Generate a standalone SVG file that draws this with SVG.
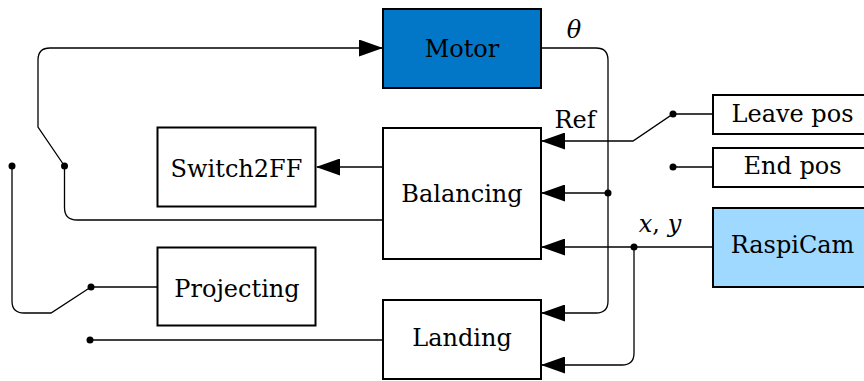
<svg xmlns="http://www.w3.org/2000/svg" width="864" height="381" viewBox="0 0 864 381">
<style>
.box{stroke:#000;stroke-width:2;fill:#fff}
.lbl{font-family:'DejaVu Serif',serif;font-size:24px;fill:#000;text-anchor:middle}
.it{font-style:italic}
.wire{fill:none;stroke:#000;stroke-width:1.3}
.dot{fill:#000}
</style>
<defs>
<marker id="arr" viewBox="0 0 24 17" refX="23" refY="8.5" markerWidth="24" markerHeight="17" markerUnits="userSpaceOnUse" orient="auto">
<path d="M0,0 L24,8.5 L0,17 z" fill="#000"/>
</marker>
</defs>
<rect width="864" height="381" fill="#fff"/>
<g id="connectors">
<path class="wire" d="M64.5,166 L38,127 L38,60 Q38,48 50,48 L382,48" marker-end="url(#arr)"/>
<path class="wire" d="M382,220 L77,220 Q64.5,220 64.5,207.5 L64.5,166"/>
<path class="wire" d="M382,167 L317,167" marker-end="url(#arr)"/>
<path class="wire" d="M12,166 L12,301 Q12,313 24,313 L51,313 L91,287"/>
<path class="wire" d="M91,287 L157,287"/>
<path class="wire" d="M90,340 L382,340"/>
<path class="wire" d="M541,48 L596,48 Q608,48 608,60 L608,301 Q608,313 596,313 L542,313" marker-end="url(#arr)"/>
<path class="wire" d="M608,193 L542,193" marker-end="url(#arr)"/>
<path class="wire" d="M712,114 L673,114 L633,141 L542,141" marker-end="url(#arr)"/>
<path class="wire" d="M673,167 L712,167"/>
<path class="wire" d="M712,247 L542,247" marker-end="url(#arr)"/>
<path class="wire" d="M634,247 L634,353 Q634,365 622,365 L542,365" marker-end="url(#arr)"/>
<circle class="dot" cx="64.5" cy="166" r="3.5"/>
<circle class="dot" cx="12" cy="166" r="3.5"/>
<circle class="dot" cx="91" cy="287" r="3.5"/>
<circle class="dot" cx="90" cy="340" r="3.5"/>
<circle class="dot" cx="608" cy="193" r="3.5"/>
<circle class="dot" cx="673" cy="114" r="3.5"/>
<circle class="dot" cx="673" cy="167" r="3.5"/>
<circle class="dot" cx="634" cy="247" r="3.5"/>
<text class="lbl it" x="574" y="38">θ</text>
<text class="lbl" x="575" y="128">Ref</text>
<text class="lbl" x="660" y="232"><tspan class="it">x</tspan>, <tspan class="it">y</tspan></text>
</g>
<g id="motor">
<rect class="box" x="383" y="9" width="158" height="79" style="fill:#0277C8"/>
<text class="lbl" x="462" y="57">Motor</text>
</g>
<g id="switch2ff">
<rect class="box" x="157.5" y="127.5" width="158" height="79"/>
<text class="lbl" x="236.5" y="176.5">Switch2FF</text>
</g>
<g id="balancing">
<rect class="box" x="383" y="128" width="158" height="131"/>
<text class="lbl" x="462" y="201.5">Balancing</text>
</g>
<g id="projecting">
<rect class="box" x="157.5" y="247.5" width="158" height="78"/>
<text class="lbl" x="237" y="296.5">Projecting</text>
</g>
<g id="landing">
<rect class="box" x="383" y="300" width="158" height="79"/>
<text class="lbl" x="462" y="346">Landing</text>
</g>
<g id="leavepos">
<rect class="box" x="713" y="95" width="158" height="39"/>
<text class="lbl" x="792.5" y="121.5">Leave pos</text>
</g>
<g id="endpos">
<rect class="box" x="713" y="148" width="158" height="39"/>
<text class="lbl" x="792.5" y="173.5">End pos</text>
</g>
<g id="raspicam">
<rect class="box" x="713" y="208" width="158" height="79" style="fill:#9FD9FF"/>
<text class="lbl" x="792.5" y="252.5">RaspiCam</text>
</g>
</svg>
